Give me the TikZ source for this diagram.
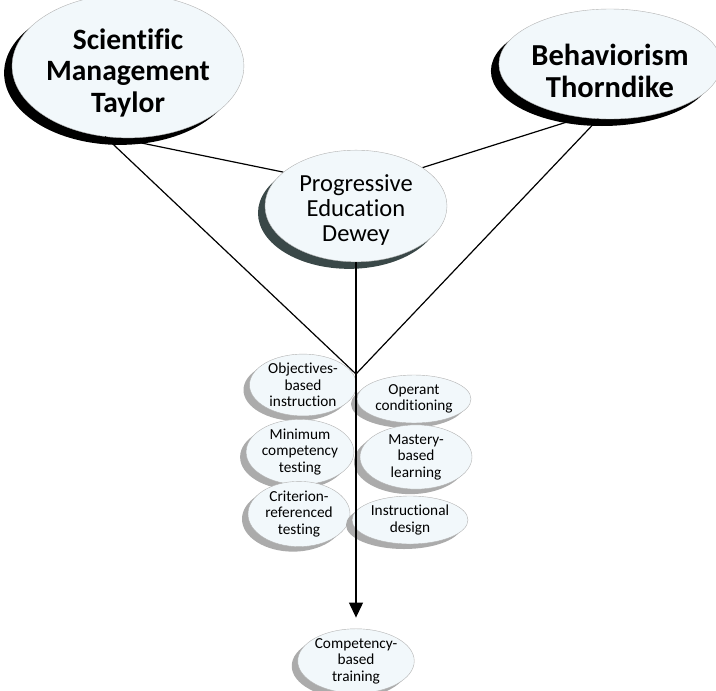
\documentclass[tikz,border=0pt]{standalone}
\usepackage{fontspec}
\setmainfont{Carlito}[Ligatures=NoCommon]
\usetikzlibrary{shapes.geometric,shadows,arrows.meta,backgrounds}
\definecolor{paleblue}{HTML}{F2F8FB}
\definecolor{slate}{HTML}{3A4848}
\definecolor{shadegray}{HTML}{ABABAB}

\begin{document}
\begin{tikzpicture}[x=1pt, y=-1pt, line width=1.2pt,
  main/.style = {ellipse, draw=gray!60, line width=0.4pt, fill=paleblue, inner sep=0pt, align=center},
  top/.style = {main, font=\fontsize{29.5}{31.5}\selectfont\bfseries,
    drop shadow={shadow xshift=-8pt, shadow yshift=-7pt, fill=black, opacity=1}},
  mid/.style = {main, font=\fontsize{24.5}{25}\selectfont,
    drop shadow={shadow xshift=-7pt, shadow yshift=-7pt, fill=slate, opacity=1}},
  leaf/.style = {main, font=\fontsize{15.3}{16.5}\selectfont,
    drop shadow={shadow xshift=-6pt, shadow yshift=-5pt, fill=shadegray, opacity=1}},
  link/.style = {line width=1.2pt}]
\useasboundingbox (0,0) rectangle (716,691);
% roots
\node[top, minimum width=222pt, minimum height=108pt] (taylor) at (128,66) {\rule{0pt}{34pt}Scientific\\Management\\Taylor};
\node[top, minimum width=214pt, minimum height=110pt, font=\fontsize{30.5}{32}\selectfont\bfseries] (thorndike) at (610,64) {\rule{0pt}{35pt}Behaviorism\\Thorndike};
\node[mid, minimum width=182pt, minimum height=90pt] (dewey) at (356,206) {\rule{0pt}{25pt}Progressive\\Education\\Dewey};
% left column
\node[leaf, minimum width=107pt, minimum height=56pt] (objectives) at (303,385) {Objectives-\\based\\instruction};
\node[leaf, minimum width=104pt, minimum height=58pt] (minimum) at (300,452) {Minimum\\competency\\testing};
\node[leaf, minimum width=102pt, minimum height=58pt] (criterion) at (299,514) {Criterion-\\referenced\\testing};
% right column
\node[leaf, minimum width=114pt, minimum height=48pt] (operant) at (414,399) {Operant\\conditioning};
\node[leaf, minimum width=112pt, minimum height=54pt] (mastery) at (416,457) {Mastery-\\based\\learning};
\node[leaf, minimum width=116pt, minimum height=48pt] (design) at (410,520) {Instructional\\design};
% outcome
\node[leaf, minimum width=116pt, minimum height=54pt] (training) at (356,661) {Competency-\\based\\training};
\coordinate (junction) at (356,374);

\begin{scope}[on background layer]
\draw[link] (taylor.260) -- (dewey.155);
\draw[link] (thorndike.242) -- (dewey.30);
\end{scope}
\draw[link] (taylor.252) -- (junction);
\draw[link] (thorndike.258) -- (junction);
\draw[link, -{Triangle[length=15pt,width=14pt]}, shorten >=11pt] (dewey.south) -- (training.north);
\end{tikzpicture}
\end{document}
